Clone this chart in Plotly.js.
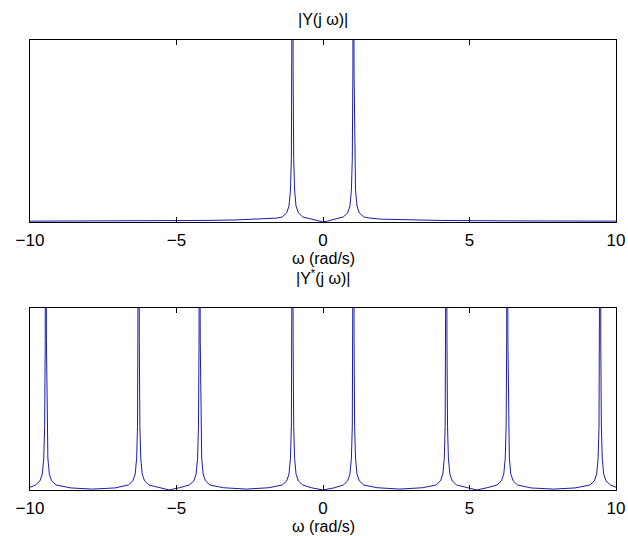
<!DOCTYPE html>
<html>
<head>
<meta charset="utf-8">
<script src="https://cdn.plot.ly/plotly-3.0.1.min.js"></script>
<style>html,body{margin:0;padding:0;background:#fff;}#chart{width:628px;height:536px;}</style>
</head>
<body>
<div id="chart"></div>
<script>
// |Y(j w)| : frequency (rad/s) and magnitude (peaks run off the axis)
const omegaTop = [-10, -8, -6, -4, -3, -2, -1.6, -1.39, -1.24, -1.16, -1.11, -1.08, -1.06, -1.05, -1.04, -1.03, -1.02, -1.0, -0.97, -0.92, -0.84, -0.69, -0.5, -0.3, -0.15, 0,
                  0.15, 0.3, 0.5, 0.69, 0.84, 0.92, 0.97, 1.0, 1.02, 1.03, 1.04, 1.05, 1.06, 1.08, 1.11, 1.16, 1.24, 1.39, 1.6, 2, 3, 4, 6, 8, 10];
const magTop = [0.18, 0.2, 0.25, 0.34, 0.44, 0.62, 0.85, 1.1, 2.0, 3.5, 7, 14, 33, 66, 200, 66, 33, 14, 7, 3.5, 2.0, 1.1, 0.75, 0.42, 0.2, 0,
                0.2, 0.42, 0.75, 1.1, 2.0, 3.5, 7, 14, 33, 66, 200, 66, 33, 14, 7, 3.5, 2.0, 1.1, 0.85, 0.62, 0.44, 0.34, 0.25, 0.2, 0.18];

// |Y*(j w)| : sampled spectrum
const omegaBot = [-10,
  -9.81, -9.66, -9.58, -9.53, -9.50, -9.48, -9.47, -9.46, -9.45, -9.44, -9.42, -9.39, -9.34, -9.26, -9.11,
  -8.6, -7.87, -7.1,
  -6.64, -6.49, -6.41, -6.36, -6.33, -6.31, -6.30, -6.29, -6.28, -6.27, -6.25, -6.22, -6.17, -6.09, -5.94,
  -5.6, -5.25, -4.9,
  -4.56, -4.41, -4.33, -4.28, -4.25, -4.23, -4.22, -4.21, -4.20, -4.19, -4.17, -4.14, -4.09, -4.01, -3.86,
  -3.4, -2.62, -1.85,
  -1.39, -1.24, -1.16, -1.11, -1.08, -1.06, -1.05, -1.04, -1.03, -1.02, -1.00, -0.97, -0.92, -0.84, -0.69,
  -0.4, 0, 0.4,
  0.69, 0.84, 0.92, 0.97, 1.00, 1.02, 1.03, 1.04, 1.05, 1.06, 1.08, 1.11, 1.16, 1.24, 1.39,
  1.85, 2.62, 3.4,
  3.86, 4.01, 4.09, 4.14, 4.17, 4.19, 4.20, 4.21, 4.22, 4.23, 4.25, 4.28, 4.33, 4.41, 4.56,
  4.9, 5.25, 5.6,
  5.94, 6.09, 6.17, 6.22, 6.25, 6.27, 6.28, 6.29, 6.30, 6.31, 6.33, 6.36, 6.41, 6.49, 6.64,
  7.1, 7.87, 8.6,
  9.11, 9.26, 9.34, 9.39, 9.42, 9.44, 9.45, 9.46, 9.47, 9.48, 9.50, 9.53, 9.58, 9.66, 9.81,
  10];
const magBot = [0.6,
  1.1, 2.0, 3.5, 7, 14, 33, 66, 200, 66, 33, 14, 7, 3.5, 2.0, 1.1,
  0.45, 0.2, 0.45,
  1.1, 2.0, 3.5, 7, 14, 33, 66, 200, 66, 33, 14, 7, 3.5, 2.0, 1.1,
  0.5, 0, 0.5,
  1.1, 2.0, 3.5, 7, 14, 33, 66, 200, 66, 33, 14, 7, 3.5, 2.0, 1.1,
  0.5, 0.2, 0.5,
  1.1, 2.0, 3.5, 7, 14, 33, 66, 200, 66, 33, 14, 7, 3.5, 2.0, 1.1,
  0.5, 0, 0.5,
  1.1, 2.0, 3.5, 7, 14, 33, 66, 200, 66, 33, 14, 7, 3.5, 2.0, 1.1,
  0.5, 0.2, 0.5,
  1.1, 2.0, 3.5, 7, 14, 33, 66, 200, 66, 33, 14, 7, 3.5, 2.0, 1.1,
  0.5, 0, 0.5,
  1.1, 2.0, 3.5, 7, 14, 33, 66, 200, 66, 33, 14, 7, 3.5, 2.0, 1.1,
  0.45, 0.2, 0.45,
  1.1, 2.0, 3.5, 7, 14, 33, 66, 200, 66, 33, 14, 7, 3.5, 2.0, 1.1,
  0.6];

const xTicks = [-10, -5, 0, 5, 10];
const titleTop = '|Y(j ω)|';
const titleBot = '|Y<sup>*</sup>(j ω)|';
const xLabel = 'ω (rad/s)';

const lineColor = '#1c1ca8';
const fam = '"Liberation Sans", Arial, sans-serif';
const tickFont = {family: fam, size: 17, color: '#000'};
const labelFont = {family: fam, size: 16, color: '#000'};

const traces = [
  {x: omegaTop, y: magTop, type: 'scatter', mode: 'lines', line: {color: lineColor, width: 1}, xaxis: 'x', yaxis: 'y', hoverinfo: 'skip'},
  {x: omegaBot, y: magBot, type: 'scatter', mode: 'lines', line: {color: lineColor, width: 1}, xaxis: 'x2', yaxis: 'y2', hoverinfo: 'skip'}
];

const xCommon = {
  range: [-10, 10], tickvals: xTicks, ticks: 'inside', ticklen: 5, tickcolor: '#000',
  showline: true, linecolor: '#000', linewidth: 1, mirror: 'ticks',
  showgrid: false, zeroline: false, tickfont: tickFont, ticklabelstandoff: 3
};
const yCommon = {
  range: [0, 40], showticklabels: false, ticks: '', showline: true, linecolor: '#000', linewidth: 1,
  mirror: true, showgrid: false, zeroline: false, fixedrange: true
};

const layout = {
  width: 628, height: 536,
  margin: {l: 30, r: 12, t: 40, b: 46},
  paper_bgcolor: '#fff', plot_bgcolor: '#fff',
  showlegend: false,
  font: labelFont,
  xaxis: Object.assign({}, xCommon, {anchor: 'y', domain: [0, 1]}),
  yaxis: Object.assign({}, yCommon, {anchor: 'x', domain: [0.5956, 1]}),
  xaxis2: Object.assign({}, xCommon, {anchor: 'y2', domain: [0, 1]}),
  yaxis2: Object.assign({}, yCommon, {anchor: 'x2', domain: [0, 0.4044]}),
  annotations: [
    {text: titleTop, xref: 'paper', yref: 'paper', x: 0.5, y: (490 - 20) / 450, xanchor: 'center', yanchor: 'middle', showarrow: false, font: labelFont},
    {text: xLabel, xref: 'paper', yref: 'paper', x: 0.5, y: (490 - 258) / 450, xanchor: 'center', yanchor: 'middle', showarrow: false, font: labelFont},
    {text: titleBot, xref: 'paper', yref: 'paper', x: 0.5, y: (490 - 277) / 450, xanchor: 'center', yanchor: 'middle', showarrow: false, font: labelFont},
    {text: xLabel, xref: 'paper', yref: 'paper', x: 0.5, y: (490 - 526) / 450, xanchor: 'center', yanchor: 'middle', showarrow: false, font: labelFont}
  ]
};

Plotly.newPlot('chart', traces, layout, {staticPlot: true, displayModeBar: false});
</script>
</body>
</html>
